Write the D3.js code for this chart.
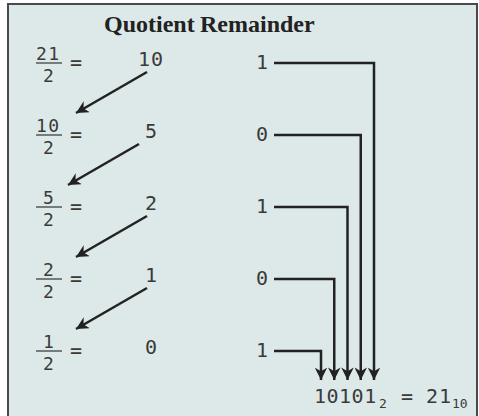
<!DOCTYPE html>
<html><head><meta charset="utf-8">
<script src="https://cdn.jsdelivr.net/npm/d3@7"></script>
<style>
html,body{margin:0;padding:0;background:#fff;}
svg{display:block;}
.mono{font-family:"DejaVu Sans Mono","Liberation Mono",monospace;fill:#3a3a3a;letter-spacing:1px;}
</style></head>
<body>
<script>
// ---- data ----
const dividends  = [21, 10, 5, 2, 1];
const divisors   = [2, 2, 2, 2, 2];
const quotients  = [10, 5, 2, 1, 0];
const remainders = [1, 0, 1, 0, 1];
const headers    = ["Quotient", "Remainder"];
const resultBinary = "10101", resultBase2 = "2", resultDecimal = "21", resultBase10 = "10";

const W = 479, H = 416;
const svg = d3.select("body").append("svg").attr("width", W).attr("height", H);

// frame
svg.append("rect").attr("x", 8).attr("y", 4).attr("width", 469).attr("height", 420)
  .attr("fill", "#dce9e8").attr("stroke", "#4a4a4a").attr("stroke-width", 2);

// scales
const rows = d3.range(dividends.length);
const y = d3.scalePoint().domain(rows).range([63, 351]);
const xBit = d3.scaleLinear().domain([0, rows.length - 1]).range([374, 321]);

const defs = svg.append("defs");
defs.append("marker").attr("id", "ah").attr("viewBox", "0 0 10 10")
  .attr("refX", 10).attr("refY", 5).attr("markerWidth", 6.5).attr("markerHeight", 5)
  .attr("markerUnits", "strokeWidth").attr("orient", "auto")
  .append("path").attr("d", "M0,0 L10,5 L0,10 L3,5 Z").attr("fill", "#222");

// title
svg.append("text").attr("x", 104).attr("y", 32).text(headers[0])
  .attr("font-family", "Liberation Serif, Times New Roman, serif").attr("font-weight", "bold")
  .attr("font-size", 24).attr("fill", "#222");
svg.append("text").attr("x", 200).attr("y", 32).text(headers[1])
  .attr("font-family", "Liberation Serif, Times New Roman, serif").attr("font-weight", "bold")
  .attr("font-size", 24).attr("fill", "#222");

const g = svg.append("g");
const fs = 20, ffs = 18;
function mono(x, yy, txt, size, anchor) {
  return g.append("text").attr("class", "mono").attr("x", x).attr("y", yy)
    .attr("text-anchor", anchor || "start").attr("font-size", size || fs).text(txt);
}
rows.forEach(i => {
  const yy = y(i);
  // fraction
  const num = String(dividends[i]);
  mono(num.length > 1 ? 36 : 43, yy - 3, num, ffs).style("letter-spacing", "1.5px");
  g.append("line").attr("x1", 36).attr("x2", 62).attr("y1", yy).attr("y2", yy)
    .attr("stroke", "#333").attr("stroke-width", 1.2);
  mono(43, yy + 19, divisors[i], ffs);
  mono(70, yy + 6, "=");
  // quotient
  const q = String(quotients[i]);
  mono(q.length > 1 ? 138 : 145, yy + 3, q);
  // remainder
  mono(256, yy + 6, remainders[i]);
  // connector
  const xx = xBit(i);
  g.append("path").attr("d", `M274,${yy} H${xx} V380`)
    .attr("fill", "none").attr("stroke", "#222").attr("stroke-width", 2.5)
    .attr("marker-end", "url(#ah)");
  // diagonal arrow to next row
  if (i < rows.length - 1) {
    const xs = i === 1 ? 139 : 147, xe = i === 1 ? 68 : 76;
    g.append("line").attr("x1", xs).attr("y1", yy + 9).attr("x2", xe).attr("y2", y(i + 1) - 22)
      .attr("stroke", "#222").attr("stroke-width", 2.5).attr("marker-end", "url(#ah)");
  }
});

// result
mono(314, 403, resultBinary, 20).style("letter-spacing", "0.5px");
mono(379, 408, resultBase2, 13);
mono(401, 403, "=", 20);
mono(426, 403, resultDecimal, 20);
mono(452, 408, resultBase10, 13).style("letter-spacing", "0px");
</script>
</body></html>
